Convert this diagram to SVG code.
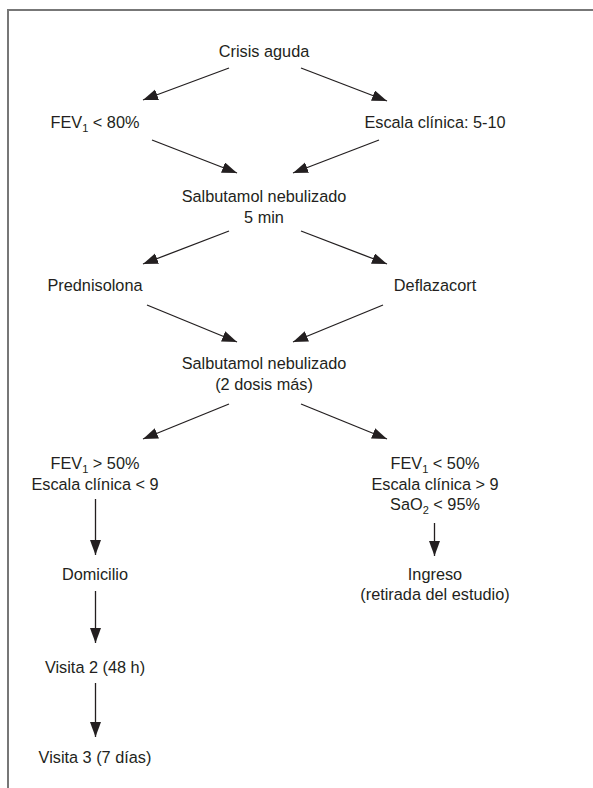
<svg xmlns="http://www.w3.org/2000/svg" width="593" height="788" viewBox="0 0 593 788">
<style>
  text { font-family: "Liberation Sans", Arial, sans-serif; font-size: 16.3px; fill: #231f20; text-anchor: middle; }
  .sub { font-size: 11px; }
  .conn line { stroke: #231f20; stroke-width: 1.3; marker-end: url(#ah); }
  .frame { stroke: #777; stroke-width: 2; fill: none; }
</style>
<defs>
  <marker id="ah" markerUnits="userSpaceOnUse" markerWidth="16" markerHeight="12" refX="15" refY="5.5" orient="auto">
    <path d="M0,0 L15,5.5 L0,11 z" fill="#231f20"/>
  </marker>
</defs>
<rect width="593" height="788" fill="#fff"/>
<path class="frame" d="M8,788 L8,10 L593,10"/>

<g id="crisis"><text x="264" y="57">Crisis aguda</text></g>
<g id="fev80"><text x="95" y="128">FEV<tspan class="sub" dy="4">1</tspan><tspan dy="-4"> &lt; 80%</tspan></text></g>
<g id="escala510"><text x="435" y="128">Escala clínica: 5-10</text></g>
<g id="salb1"><text x="264" y="202">Salbutamol nebulizado</text><text x="264" y="223">5 min</text></g>
<g id="prednisolona"><text x="95" y="291">Prednisolona</text></g>
<g id="deflazacort"><text x="435" y="291">Deflazacort</text></g>
<g id="salb2"><text x="264" y="369">Salbutamol nebulizado</text><text x="264" y="390">(2 dosis más)</text></g>
<g id="fev50mas"><text x="95" y="469">FEV<tspan class="sub" dy="4">1</tspan><tspan dy="-4"> &gt; 50%</tspan></text><text x="95" y="490">Escala clínica &lt; 9</text></g>
<g id="fev50menos"><text x="435" y="469">FEV<tspan class="sub" dy="4">1</tspan><tspan dy="-4"> &lt; 50%</tspan></text><text x="435" y="490">Escala clínica &gt; 9</text><text x="435" y="510">SaO<tspan class="sub" dy="4">2</tspan><tspan dy="-4"> &lt; 95%</tspan></text></g>
<g id="domicilio"><text x="95" y="580">Domicilio</text></g>
<g id="ingreso"><text x="435" y="580">Ingreso</text><text x="435" y="600">(retirada del estudio)</text></g>
<g id="visita2"><text x="95" y="673">Visita 2 (48 h)</text></g>
<g id="visita3"><text x="95" y="763">Visita 3 (7 días)</text></g>

<g id="connectors" class="conn">
  <line x1="229" y1="68" x2="143" y2="100"/>
  <line x1="301" y1="68" x2="387" y2="101"/>
  <line x1="152" y1="140" x2="237" y2="173"/>
  <line x1="379" y1="140" x2="293" y2="173"/>
  <line x1="229" y1="231" x2="143" y2="264"/>
  <line x1="301" y1="231" x2="387" y2="264"/>
  <line x1="147" y1="305" x2="237" y2="342"/>
  <line x1="383" y1="305" x2="293" y2="342"/>
  <line x1="229" y1="404" x2="143" y2="439"/>
  <line x1="301" y1="404" x2="387" y2="439"/>
  <line x1="95.5" y1="499" x2="95.5" y2="555"/>
  <line x1="434.5" y1="523" x2="434.5" y2="556"/>
  <line x1="95.5" y1="591" x2="95.5" y2="643"/>
  <line x1="95.5" y1="683" x2="95.5" y2="737"/>
</g>
</svg>
